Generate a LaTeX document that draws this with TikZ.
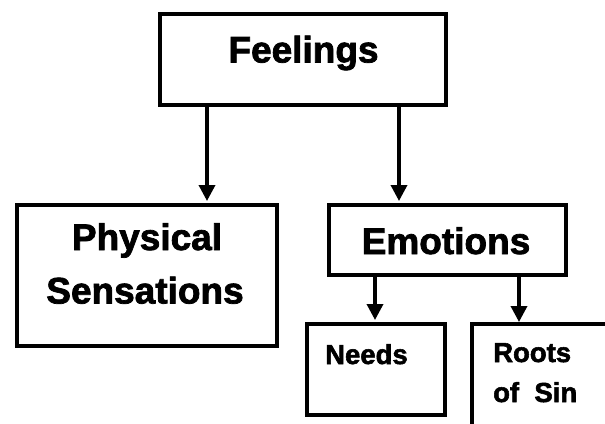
\documentclass[tikz,border=0pt]{standalone}
\usepackage{fontspec}
\setmainfont{Liberation Sans}[BoldFeatures={FakeBold=2}]
\usetikzlibrary{arrows.meta}
\tikzset{
  box/.style={draw=black, line width=4pt, rectangle, inner sep=0pt, fill=white},
  arr/.style={draw=black, line width=3.5pt, -{Triangle[width=16pt,length=16pt]}, shorten >=2pt},
  bigtxt/.style={inner sep=0pt, font=\bfseries\fontsize{37}{40}\selectfont},
  smalltxt/.style={inner sep=0pt, font=\bfseries\fontsize{27.5}{30}\selectfont}
}
\begin{document}
\begin{tikzpicture}[x=1pt,y=-1pt]
\fill[white] (0,0) rectangle (605,423);
\useasboundingbox (0,0) rectangle (605,423);
% boxes
\node[box, minimum width=286pt, minimum height=91pt] (feel) at (303,59.5) {};
\node[box, minimum width=260pt, minimum height=141pt] (phys) at (147,275.5) {};
\node[box, minimum width=237pt, minimum height=70pt] (emo) at (447.5,240) {};
\node[box, minimum width=138pt, minimum height=91pt] (needs) at (376,369.5) {};
\coordinate (rootsbl) at (472,426);
\coordinate (rootsnw) at (472,324);
\coordinate (rootsne) at (608,324);
\draw[line width=4pt] (rootsbl) -- (rootsnw) -- (rootsne);
% texts
\node[bigtxt, anchor=base] (tfeel) at (303.5,62.5) {Feelings};
\node[bigtxt, anchor=base] (tphys1) at (147,250) {Physical};
\node[bigtxt, anchor=base] (tphys2) at (145,303.5) {Sensations};
\node[bigtxt, anchor=base] (temo) at (446,254) {Emotions};
\node[smalltxt, anchor=base west] (tneeds) at (325,364) {Needs};
\node[smalltxt, anchor=base west] (troots1) at (493,362) {Roots};
\node[smalltxt, anchor=base west] (troots2) at (493,402) {of\ \ Sin};
% arrow columns
\coordinate (c1) at (207,0);
\coordinate (c2) at (399,0);
\coordinate (c3) at (375,0);
\coordinate (c4) at (519,0);
\draw[arr] (feel.south -| c1) -- (phys.north -| c1);
\draw[arr] (feel.south -| c2) -- (emo.north -| c2);
\draw[arr] (emo.south -| c3) -- (needs.north -| c3);
\draw[arr] (emo.south -| c4) -- (rootsnw -| c4);
\end{tikzpicture}
\end{document}
